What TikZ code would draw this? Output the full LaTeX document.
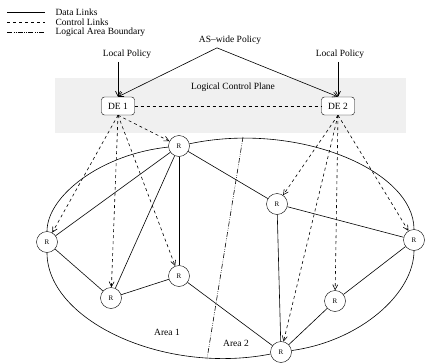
\documentclass[tikz,border=0pt]{standalone}
\usepackage{fontspec}
\setmainfont{Liberation Serif}
\usetikzlibrary{arrows.meta}

\begin{document}
\begin{tikzpicture}[x=1pt,y=-1pt,
    font=\fontsize{9.5}{11}\selectfont,
    >={Straight Barb[length=5pt,width=5pt]},
    router/.style={draw,circle,fill=white,minimum size=21pt,inner sep=0pt,font=\fontsize{7}{8}\selectfont},
    engine/.style={draw,rounded corners=3pt,fill=white,minimum width=33pt,minimum height=18pt,inner sep=1pt},
    data/.style={line width=0.6pt},
    ctrl/.style={line width=0.6pt,dashed},
    boundary/.style={line width=0.6pt,dash pattern=on 5pt off 1.5pt on 0.6pt off 1.5pt on 0.6pt off 1.5pt}]
  \useasboundingbox (0,0) rectangle (426,364);

  % legend
  \draw[data,line width=0.8pt] (7,12) -- (45,12);
  \draw[ctrl] (7,22) -- (45,22);
  \draw[boundary] (7,32) -- (45,32);
  \node[right] (lgdata) at (52,12) {Data Links};
  \node[right] (lgctrl) at (52,22) {Control Links};
  \node[right] (lgarea) at (52,32) {Logical Area Boundary};

  % control plane
  \fill[black!6] (55,78) rectangle (406,133);
  \node (plane) at (233,87) {Logical Control Plane};
  \node (aswide) at (230,40) {AS--wide Policy};
  \node (lp1) at (127,54) {Local Policy};
  \node (lp2) at (340,54) {Local Policy};
  \node[engine] (de1) at (118,106) {DE 1};
  \node[engine] (de2) at (338,106) {DE 2};

  % routers
  \node[router] (rtop) at (179,146) {R};
  \node[router] (rleft) at (47,242) {R};
  \node[router] (rbl) at (111,298) {R};
  \node[router] (rmid) at (179,276) {R};
  \node[router] (rc) at (277,204) {R};
  \node[router] (rright) at (414,240) {R};
  \node[router] (rbr) at (335,301) {R};
  \node[router] (rbot) at (281,352) {R};

  \node (area1) at (167,332) {Area 1};
  \node (area2) at (236,343) {Area 2};

  % area boundary
  \coordinate (btop) at (243,137);
  \coordinate (bbot) at (207,359);
  \draw[boundary] (btop) -- (bbot);

  % outline of the AS
  \draw[data] (rleft) .. controls (47,196) and (101,154) .. (rtop);
  \draw[data] (rtop) .. controls (297,121) and (414,170) .. (rright);
  \draw[data] (rright) .. controls (414,293) and (361,341) .. (rbot);
  \draw[data] (rbot) .. controls (163,375) and (47,320) .. (rleft);

  % data links
  \draw[data] (rtop) -- (rleft);
  \draw[data] (rtop) -- (rbl);
  \draw[data] (rtop) -- (rmid);
  \draw[data] (rtop) -- (rc);
  \draw[data] (rleft) -- (rbl);
  \draw[data] (rbl) -- (rmid);
  \draw[data] (rmid) -- (rbot);
  \draw[data] (rc) -- (rbot);
  \draw[data] (rc) -- (rright);
  \draw[data] (rbot) -- (rbr);
  \draw[data] (rbr) -- (rright);

  % policies
  \draw[data,->] (lp1.south -| de1.north) -- (de1.north);
  \draw[data,->] (lp2.south -| de2.north) -- (de2.north);
  \draw[data,->] ([xshift=-13pt]aswide.south) -- (de1.north);
  \draw[data,->] ([xshift=-13pt]aswide.south) -- (de2.north);

  % control links
  \draw[ctrl] (de1) -- (de2);
  \foreach \r in {rtop,rleft,rbl,rmid} {
    \draw[ctrl,->] (de1.south) -- (\r);
  }
  \foreach \r in {rc,rbot,rbr,rright} {
    \draw[ctrl,->] (de2.south) -- (\r);
  }
\end{tikzpicture}
\end{document}
